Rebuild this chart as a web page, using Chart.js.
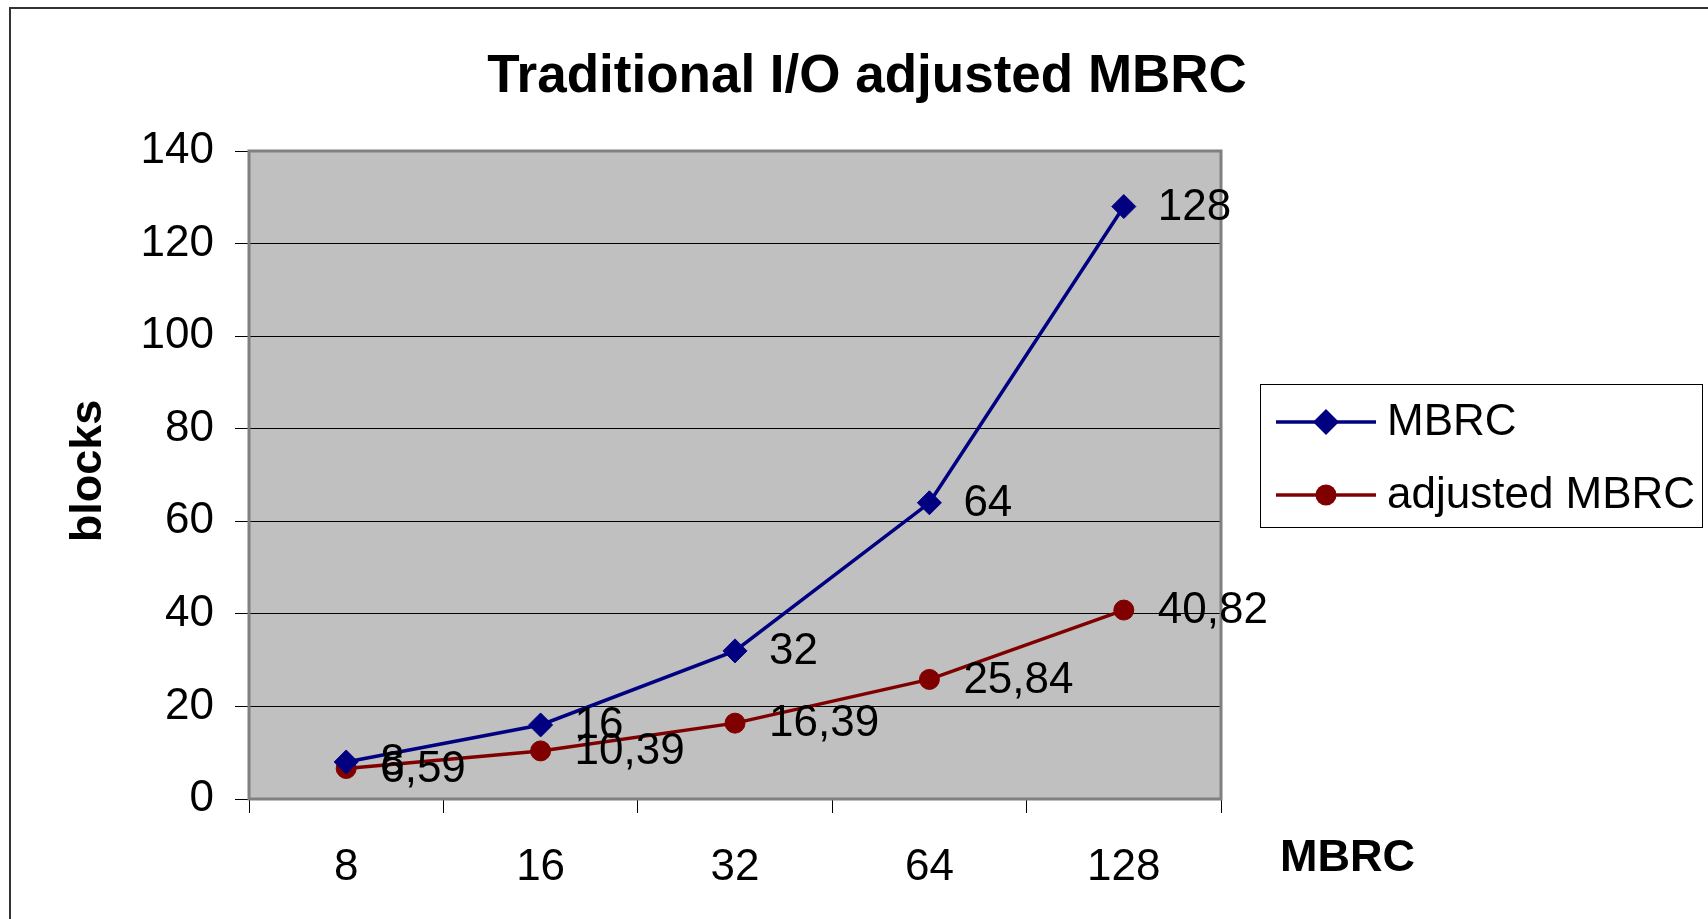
<!DOCTYPE html>
<html>
<head>
<meta charset="utf-8">
<title>Traditional I/O adjusted MBRC</title>
<script src="https://cdn.jsdelivr.net/npm/chart.js@4.4.1/dist/chart.umd.min.js"></script>
<style>
  html, body { margin: 0; padding: 0; background: #ffffff; }
  #wrap { width: 1708px; height: 919px; position: relative; }
  canvas { display: block; }
</style>
</head>
<body>
<div id="wrap"><canvas id="chart" width="1708" height="919"></canvas></div>
<script>
// Multiblock read count settings and the effective read size measured for each
const categories = ['8', '16', '32', '64', '128'];
const mbrcValues = [8, 16, 32, 64, 128];
const adjustedValues = [6.59, 10.39, 16.39, 25.84, 40.82];
const seriesNames = ['MBRC', 'adjusted MBRC'];
const yTicks = { min: 0, max: 140, step: 20 };

const chartTitle = 'Traditional I/O adjusted MBRC';
const xTitle = 'MBRC';
const yTitle = 'blocks';

const FONT = '"Liberation Sans", Arial, Helvetica, sans-serif';
const NAVY = '#000080';
const MAROON = '#800000';

// Numbers are written with a decimal comma
const fmt = v => String(v).replace('.', ',');

// Grey plot background and its frame
const plotFrame = {
  id: 'plotFrame',
  beforeDraw(chart) {
    const { ctx, chartArea: a } = chart;
    ctx.save();
    ctx.fillStyle = '#c0c0c0';
    ctx.fillRect(a.left, a.top, a.right - a.left, a.bottom - a.top);
    ctx.restore();
  },
  beforeDatasetsDraw(chart) {
    const { ctx, chartArea: a } = chart;
    ctx.save();
    ctx.strokeStyle = '#808080';
    ctx.lineWidth = 3;
    ctx.strokeRect(a.left, a.top, a.right - a.left, a.bottom - a.top);
    ctx.restore();
  }
};

// Value labels to the right of each point, titles, legend box and page frame
const annotations = {
  id: 'annotations',
  afterDatasetsDraw(chart) {
    const { ctx } = chart;
    ctx.save();
    ctx.fillStyle = '#000';
    ctx.font = '44px ' + FONT;
    ctx.textAlign = 'left';
    ctx.textBaseline = 'middle';
    chart.data.datasets.forEach((ds, i) => {
      const meta = chart.getDatasetMeta(i);
      meta.data.forEach((pt, j) => {
        ctx.fillText(fmt(ds.data[j]), pt.x + 34, pt.y + 1);
      });
    });
    ctx.restore();
  },
  afterDraw(chart) {
    const { ctx } = chart;
    ctx.save();

    // outer frame (top and left edges)
    ctx.strokeStyle = '#333';
    ctx.lineWidth = 2;
    ctx.beginPath();
    ctx.moveTo(1708, 8);
    ctx.lineTo(10, 8);
    ctx.lineTo(10, 919);
    ctx.stroke();

    ctx.fillStyle = '#000';
    ctx.textBaseline = 'middle';

    // chart title
    ctx.font = 'bold 53px ' + FONT;
    ctx.textAlign = 'center';
    ctx.fillText(chartTitle, 867, 77);

    // x axis title
    ctx.font = 'bold 45px ' + FONT;
    ctx.textAlign = 'left';
    ctx.fillText(xTitle, 1280, 859);

    // y axis title
    ctx.save();
    ctx.translate(89, 471);
    ctx.rotate(-Math.PI / 2);
    ctx.textAlign = 'center';
    ctx.font = 'bold 45px ' + FONT;
    ctx.fillText(yTitle, 0, 0);
    ctx.restore();

    // legend
    const box = { x: 1260, y: 384, w: 442, h: 143 };
    ctx.fillStyle = '#fff';
    ctx.fillRect(box.x, box.y, box.w, box.h);
    ctx.strokeStyle = '#000';
    ctx.lineWidth = 1;
    ctx.strokeRect(box.x + 0.5, box.y + 0.5, box.w, box.h);
    const rows = [422, 495];
    chart.data.datasets.forEach((ds, i) => {
      const y = rows[i];
      ctx.strokeStyle = ds.borderColor;
      ctx.lineWidth = 3.5;
      ctx.beginPath();
      ctx.moveTo(1276, y);
      ctx.lineTo(1376, y);
      ctx.stroke();
      ctx.fillStyle = ds.pointBackgroundColor;
      ctx.beginPath();
      if (ds.pointStyle === 'rectRot') {
        const r = 13;
        ctx.moveTo(1326, y - r);
        ctx.lineTo(1326 + r, y);
        ctx.lineTo(1326, y + r);
        ctx.lineTo(1326 - r, y);
        ctx.closePath();
      } else {
        ctx.arc(1326, y, 10.5, 0, Math.PI * 2);
      }
      ctx.fill();
      ctx.fillStyle = '#000';
      ctx.font = '44px ' + FONT;
      ctx.textAlign = 'left';
      ctx.fillText(ds.label, 1387, y + 1);
    });

    ctx.restore();
  }
};

new Chart(document.getElementById('chart'), {
  type: 'line',
  data: {
    labels: categories,
    datasets: [
      {
        label: seriesNames[0],
        data: mbrcValues,
        borderColor: NAVY,
        backgroundColor: NAVY,
        pointBackgroundColor: NAVY,
        pointBorderColor: NAVY,
        pointStyle: 'rectRot',
        pointRadius: 12,
        pointBorderWidth: 1,
        borderWidth: 3.5,
        tension: 0,
        fill: false
      },
      {
        label: seriesNames[1],
        data: adjustedValues,
        borderColor: MAROON,
        backgroundColor: MAROON,
        pointBackgroundColor: MAROON,
        pointBorderColor: MAROON,
        pointStyle: 'circle',
        pointRadius: 10,
        pointBorderWidth: 1,
        borderWidth: 3.5,
        tension: 0,
        fill: false
      }
    ]
  },
  options: {
    responsive: false,
    animation: false,
    events: [],
    layout: { padding: { left: 0, top: 151, right: 487, bottom: 20 } },
    plugins: {
      legend: { display: false },
      title: { display: false },
      tooltip: { enabled: false }
    },
    scales: {
      x: {
        type: 'category',
        offset: true,
        afterFit(scale) { scale.height = 100; },
        grid: {
          offset: true,
          drawOnChartArea: false,
          drawTicks: true,
          tickLength: 14,
          color: '#000',
          tickColor: '#000'
        },
        border: { display: false },
        ticks: {
          color: '#000',
          padding: 28,
          maxRotation: 0,
          font: { family: FONT, size: 44 }
        }
      },
      y: {
        min: yTicks.min,
        max: yTicks.max,
        afterFit(scale) { scale.width = 249; },
        grid: {
          drawOnChartArea: true,
          drawTicks: true,
          tickLength: 14,
          color: '#000',
          tickColor: '#000',
          lineWidth: 1
        },
        border: { display: false },
        ticks: {
          stepSize: yTicks.step,
          color: '#000',
          padding: 21,
          font: { family: FONT, size: 44 }
        }
      }
    }
  },
  plugins: [plotFrame, annotations]
});
</script>
</body>
</html>
